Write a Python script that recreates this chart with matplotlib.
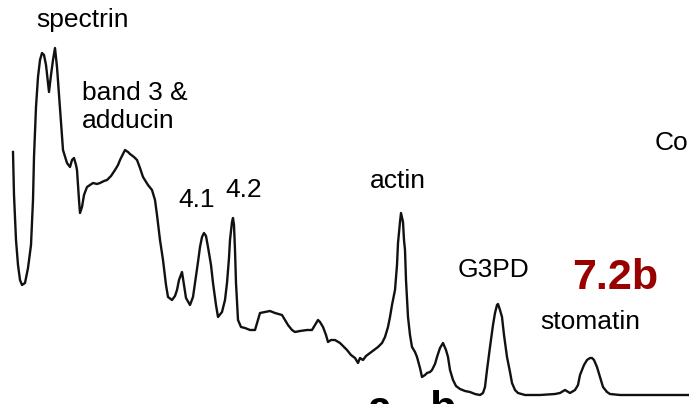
import matplotlib
matplotlib.use("Agg")
import matplotlib.pyplot as plt

plt.rcParams['font.family'] = ['Liberation Sans', 'DejaVu Sans']

# Densitometry scan of the gel lane: migration position vs. optical density
position = [
    13, 14, 16, 18, 20, 22, 25, 28, 31, 33, 34, 36, 38, 40, 42, 44, 46, 49, 51, 53,
    55, 57, 59, 60, 63, 67, 70, 72, 74, 76, 77, 79, 80, 82, 84, 87, 90, 93, 97, 100,
    104, 107, 111, 115, 118, 120, 123, 125, 128, 130, 134, 137, 140, 143, 148, 152, 155, 157, 160, 163,
    166, 168, 172, 175, 177, 179, 182, 184, 186, 190, 193, 195, 198, 200, 202, 204, 206, 208, 211, 213,
    216, 218, 222, 225, 227, 229, 230, 232, 233, 234, 235, 236, 238, 241, 245, 250, 255, 258, 260, 265,
    270, 275, 282, 285, 288, 292, 295, 300, 307, 312, 315, 318, 320, 323, 326, 328, 331, 335, 340, 344,
    347, 351, 355, 358, 360, 363, 366, 370, 374, 378, 382, 385, 388, 390, 392, 395, 397, 398, 400, 401,
    403, 404, 405, 406, 408, 410, 412, 415, 417, 420, 422, 425, 427, 430, 432, 435, 437, 440, 443, 446,
    448, 450, 453, 456, 460, 465, 470, 475, 480, 483, 485, 487, 490, 493, 495, 497, 498, 500, 502, 504,
    507, 510, 512, 515, 518, 525, 540, 555, 560, 565, 570, 575, 578, 580, 584, 587, 590, 592, 594, 597,
    600, 603, 607, 610, 620, 689,
]
density = [
    252, 209, 164, 139, 124, 119, 121, 136, 159, 204, 247, 297, 327, 344, 351, 349, 339, 312, 329, 344,
    356, 337, 309, 294, 254, 241, 237, 244, 246, 239, 234, 204, 191, 197, 209, 217, 219, 221, 220, 221,
    223, 224, 228, 234, 239, 244, 250, 254, 252, 250, 247, 244, 236, 227, 219, 214, 204, 189, 164, 144,
    119, 107, 104, 108, 114, 124, 132, 119, 106, 99, 107, 121, 142, 157, 167, 171, 168, 157, 139, 121,
    99, 87, 92, 104, 121, 146, 164, 182, 186, 179, 154, 121, 84, 77, 76, 74, 74, 84, 91, 92,
    93, 91, 89, 84, 79, 74, 72, 73, 74, 74, 79, 84, 82, 77, 69, 62, 64, 64, 61, 57,
    54, 49, 46, 41, 46, 44, 48, 51, 54, 57, 61, 67, 77, 87, 99, 114, 139, 161, 182, 191,
    182, 164, 154, 124, 87, 69, 57, 52, 47, 36, 27, 29, 31, 32, 34, 40, 47, 56, 61, 54,
    47, 34, 24, 18, 15, 13, 12, 10, 9, 11, 17, 34, 57, 79, 91, 99, 100, 94, 87, 69,
    47, 32, 21, 14, 11, 9, 9, 10, 11, 14, 11, 14, 19, 29, 39, 44, 46, 46, 44, 37,
    27, 17, 12, 10, 9, 9,
]

# Protein band labels
band_names = ["spectrin", "band 3 &\nadducin", "4.1", "4.2", "actin", "G3PD", "stomatin"]
band_label_xy = [(36, 384), (82, 297), (178, 204), (225, 214), (370, 223), (458, 134), (540, 82)]

fig = plt.figure(figsize=(6.89, 4.04), dpi=100)
ax = fig.add_axes([0, 0, 1, 1])
ax.set_xlim(0, 689)
ax.set_ylim(0, 404)
ax.axis("off")

ax.plot(position, density, color="#111111", lw=1.7, solid_joinstyle="round")

for name, (x, y) in zip(band_names, band_label_xy):
    ax.text(x, y, name, fontsize=19, ha="left", va="center",
            linespacing=1.2, color="black")

ax.text(572, 126, "7.2b", fontsize=31, fontweight="bold", color="#990000",
        ha="left", va="center")
ax.text(655, 261, "Control", fontsize=19, ha="left", va="center", color="black",
        clip_on=False)
ax.text(368, -17, "a - b", fontsize=31, fontweight="bold", ha="left",
        va="baseline", color="black", clip_on=False)

fig.savefig("out.png", dpi=100)
